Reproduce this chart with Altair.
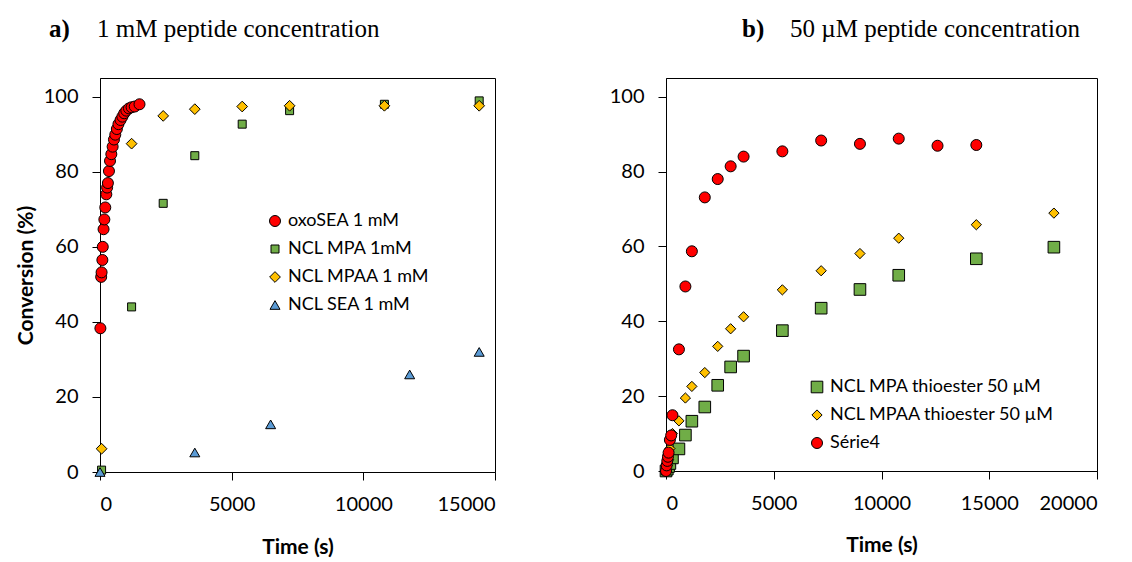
import altair as alt
import pandas as pd

# ---------------- Panel a) 1 mM ----------------
oxo_t = [15, 45, 60, 90, 105, 135, 165, 200, 240, 270, 300, 340, 380, 430, 480,
         530, 580, 640, 700, 780, 850, 920, 1000, 1100, 1200, 1320, 1500]
oxo_y = [38.3, 52.0, 53.2, 56.5, 60.0, 64.7, 67.3, 70.5, 74.0, 75.8, 77.0, 80.2,
         82.9, 84.7, 86.7, 88.6, 89.9, 91.4, 92.7, 93.8, 94.7, 95.6, 96.3, 96.9,
         97.2, 97.4, 98.0]
mpa1_t = [60, 1200, 2400, 3600, 5400, 7200, 10800, 14400]
mpa1_y = [0.5, 44.0, 71.6, 84.3, 92.7, 96.3, 98.0, 98.9]
mpaa1_t = [60, 1200, 2400, 3600, 5400, 7200, 10800, 14400]
mpaa1_y = [6.2, 87.5, 94.9, 96.7, 97.4, 97.6, 97.6, 97.6]
sea1_t = [0, 3600, 6480, 11760, 14400]
sea1_y = [0.0, 5.2, 12.7, 26.0, 32.0]

series_a = ["oxoSEA 1 mM", "NCL MPA 1mM", "NCL MPAA 1 mM", "NCL SEA 1 mM"]

# ---------------- Panel b) 50 uM ----------------
mpa50_t = [0, 60, 120, 180, 300, 600, 900, 1200, 1800, 2400, 3000, 3600, 5400,
           7200, 9000, 10800, 14400, 18000]
mpa50_y = [0.0, 0.5, 1.2, 2.0, 3.5, 5.9, 9.6, 13.3, 17.1, 22.9, 27.8, 30.7, 37.5,
           43.5, 48.5, 52.3, 56.7, 59.8]
mpaa50_t = [0, 60, 120, 180, 300, 600, 900, 1200, 1800, 2400, 3000, 3600, 5400,
            7200, 9000, 10800, 14400, 18000]
mpaa50_y = [0.0, 1.5, 3.0, 6.0, 10.0, 13.4, 19.5, 22.6, 26.3, 33.3, 38.0, 41.2,
            48.4, 53.5, 58.1, 62.2, 65.8, 68.9]
serie4_t = [0, 30, 60, 90, 120, 180, 240, 300, 600, 900, 1200, 1800, 2400, 3000,
            3600, 5400, 7200, 9000, 10800, 12600, 14400]
serie4_y = [0.0, 1.5, 2.7, 3.8, 4.9, 8.3, 9.5, 14.9, 32.5, 49.3, 58.7, 73.1, 78.0,
            81.4, 84.0, 85.4, 88.3, 87.4, 88.8, 86.9, 87.1]

series_b = ["NCL MPA thioester 50 µM", "NCL MPAA thioester 50 µM", "Série4"]

title_a = ["a)", "1 mM peptide concentration"]
title_b = ["b)", "50 µM peptide concentration"]

RED, GREEN, YELLOW, BLUE = "#FF0000", "#70AD47", "#FFC000", "#5B9BD5"
SANS = "Lato"
SERIF = "Liberation Serif"


def frame(ts, ys, names):
    rows = []
    for k, (t, y, n) in enumerate(zip(ts, ys, names)):
        for a, b in zip(t, y):
            rows.append({"t": a, "y": b, "series": n, "ord": k})
    return pd.DataFrame(rows)


df_a = frame([oxo_t, mpa1_t, mpaa1_t, sea1_t], [oxo_y, mpa1_y, mpaa1_y, sea1_y], series_a)
df_b = frame([mpa50_t, mpaa50_t, serie4_t], [mpa50_y, mpaa50_y, serie4_y], series_b)


def panel(df, names, colors, shapes, sizes, xmax, w, h, lx, ly, ytitle,
          titles, tx, xtitle_pad):
    leg = alt.Legend(orient="none", legendX=lx, legendY=ly, title=None,
                     labelFont=SANS, labelFontSize=18, labelColor="black",
                     symbolStrokeColor="black", symbolStrokeWidth=1,
                     rowPadding=10, labelOffset=4, padding=0, labelLimit=400)
    yaxis = alt.Axis(values=[0, 20, 40, 60, 80, 100], grid=False, labelPadding=14,
                     title=ytitle, titlePadding=7)
    pts = alt.Chart(df).mark_point(filled=True, opacity=1, stroke="black",
                                   strokeWidth=1).encode(
        x=alt.X("t:Q", scale=alt.Scale(domain=[0, xmax], nice=False),
                axis=alt.Axis(values=list(range(0, xmax + 1, 5000)), format="d",
                              grid=False, labelPadding=14, title="Time (s)",
                              titlePadding=xtitle_pad)),
        y=alt.Y("y:Q", scale=alt.Scale(domain=[0, 105], nice=False), axis=yaxis),
        color=alt.Color("series:N", scale=alt.Scale(domain=names, range=colors), legend=leg),
        shape=alt.Shape("series:N", scale=alt.Scale(domain=names, range=shapes), legend=leg),
        size=alt.Size("series:N", scale=alt.Scale(type="ordinal", domain=names, range=sizes),
                      legend=leg),
        order=alt.Order("ord:Q"),
    )
    t1 = alt.Chart(pd.DataFrame({"s": [titles[0]]})).mark_text(
        font=SERIF, fontSize=25, fontWeight="bold", align="left", baseline="middle",
        color="black").encode(x=alt.value(tx[0]), y=alt.value(-49), text="s:N")
    t2 = alt.Chart(pd.DataFrame({"s": [titles[1]]})).mark_text(
        font=SERIF, fontSize=25, align="left", baseline="middle",
        color="black").encode(x=alt.value(tx[1]), y=alt.value(-49), text="s:N")
    return alt.layer(pts, t1, t2).properties(width=w, height=h)


left = panel(df_a, series_a, [RED, GREEN, YELLOW, BLUE],
             ["circle", "square", "diamond", "triangle-up"], [121, 64, 115, 100],
             15000, 395, 394, 166, 134, "Conversion (%)", title_a, [-51, -3], 22)
right = panel(df_b, series_b, [GREEN, YELLOW, RED],
              ["square", "diamond", "circle"], [135, 105, 121],
              20000, 431, 393, 142, 300, None, title_b, [76, 124], 21)

chart = alt.hconcat(left, right, spacing=112).resolve_scale(
    color="independent", shape="independent", size="independent"
).resolve_legend(
    color="independent", shape="independent", size="independent"
).properties(
    padding={"left": 6, "top": 8, "right": 5, "bottom": 0}
).configure_view(stroke="black", strokeWidth=1).configure_axis(
    domainColor="black", domainWidth=1, tickColor="black", tickSize=8,
    labelFont=SANS, labelFontSize=20, labelColor="black",
    titleFont=SANS, titleFontSize=21, titleFontWeight="bold", titleColor="black"
)

chart.save("out.html", embed_options={"renderer": "svg", "actions": False})
